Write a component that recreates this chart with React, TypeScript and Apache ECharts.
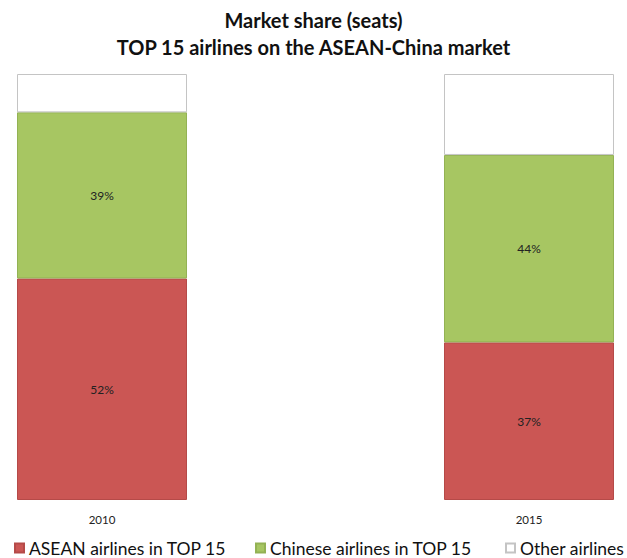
import React, { useEffect, useRef } from "react";
import * as echarts from "echarts";

const years = ["2010", "2015"];
const aseanShare = [52, 37];
const chineseShare = [39, 44];
const otherShare = [9, 19];
const seriesNames = ["ASEAN airlines in TOP 15", "Chinese airlines in TOP 15", "Other airlines"];
const titleText = "Market share (seats)\nTOP 15 airlines on the ASEAN-China market";

const FONT = "Lato, 'Open Sans', sans-serif";

export default function App() {
  const ref = useRef<HTMLDivElement>(null);
  useEffect(() => {
    if (!ref.current) return;
    const chart = echarts.init(ref.current, null, { renderer: "svg" });
    const label = {
      show: true,
      position: "inside",
      formatter: (p: any) => p.value + "%",
      color: "#222",
      fontSize: 12,
      fontFamily: FONT,
    };
    const legendCommon = {
      top: 534,
      itemWidth: 9,
      itemHeight: 9,
      itemGap: 4,
      icon: "rect",
      textStyle: { fontSize: 17.5, color: "#111", fontFamily: FONT },
      selectedMode: false,
    };
    chart.setOption({
      animation: false,
      backgroundColor: "#fff",
      title: {
        text: titleText,
        left: "center",
        top: 1,
        textStyle: { fontSize: 20, fontWeight: "bold", color: "#111", lineHeight: 27, fontFamily: FONT },
      },
      legend: [
        { ...legendCommon, left: 9, data: [seriesNames[0]] },
        { ...legendCommon, left: 250, data: [seriesNames[1]] },
        { ...legendCommon, left: 500, data: [seriesNames[2]] },
      ],
      grid: { left: 102, right: 98, top: 74, bottom: 58, outerBoundsMode: "none" },
      xAxis: {
        type: "category",
        data: years,
        boundaryGap: false,
        axisLine: { show: false },
        axisTick: { show: false },
        axisLabel: { margin: 13, fontSize: 11.5, color: "#222", fontFamily: FONT },
      },
      yAxis: { type: "value", min: 0, max: 100, show: false, splitLine: { show: false } },
      series: [
        {
          name: seriesNames[0],
          type: "bar",
          stack: "s",
          barWidth: 170,
          clip: false,
          data: aseanShare,
          itemStyle: { color: "#CB5654", borderColor: "#B54A48", borderWidth: 1 },
          label,
        },
        {
          name: seriesNames[1],
          type: "bar",
          stack: "s",
          barWidth: 170,
          clip: false,
          data: chineseShare,
          itemStyle: { color: "#A7C662", borderColor: "#93B254", borderWidth: 1 },
          label,
        },
        {
          name: seriesNames[2],
          type: "bar",
          stack: "s",
          barWidth: 170,
          clip: false,
          data: otherShare,
          itemStyle: { color: "#FFFFFF", borderColor: "#C4C4C4", borderWidth: 1 },
          label: { show: false },
        },
      ],
    });
    return () => chart.dispose();
  }, []);
  return <div ref={ref} style={{ width: 627, height: 558, position: "absolute", left: 0, top: 0 }} />;
}
